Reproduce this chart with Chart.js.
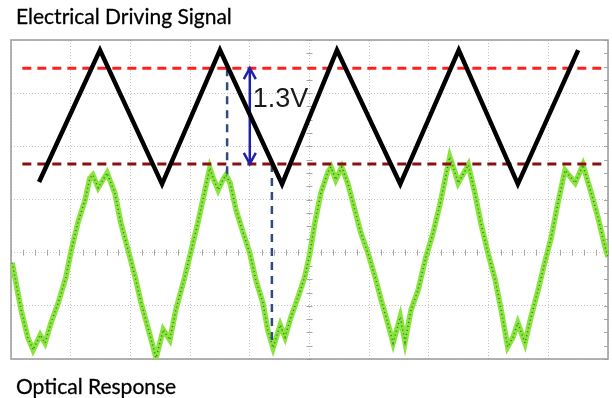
<!DOCTYPE html>
<html>
<head>
<meta charset="utf-8">
<script src="https://cdn.jsdelivr.net/npm/chart.js@4/dist/chart.umd.min.js"></script>
<style>
  body { margin: 0; background: #fff; }
  #wrap { position: relative; width: 612px; height: 398px; }
  .cap { position: absolute; left: 16px; font-family: Lato, "Open Sans", sans-serif; font-size: 21px; line-height: 24px; color: #000; white-space: nowrap; -webkit-text-stroke: 0.3px #000; }
</style>
</head>
<body>
<div id="wrap">
  <canvas id="scope"></canvas>
  <div class="cap" style="top:4px">Electrical Driving Signal</div>
  <div class="cap" style="top:374px">Optical Response</div>
</div>
<script>
// time axis in screen divisions (0..10), level axis in divisions (0..6)
var driveX = [0.47, 1.49, 2.53, 3.5, 4.54, 5.46, 6.52, 7.5, 8.49, 9.5];
var driveY = [3.33, 5.81, 3.29, 5.81, 3.29, 5.81, 3.29, 5.81, 3.29, 5.81];

var opticX = [0.02, 0.17, 0.28, 0.37, 0.49, 0.57, 0.67, 0.79, 0.92, 1.01, 1.12, 1.24, 1.32, 1.37, 1.46, 1.61, 1.74, 1.84, 1.96, 2.08,
  2.18, 2.29, 2.43, 2.55, 2.66, 2.76, 2.91, 3.02, 3.13, 3.25, 3.33, 3.38, 3.47, 3.55, 3.60, 3.67, 3.77, 3.89, 4.00, 4.10,
  4.22, 4.30, 4.39, 4.51, 4.59, 4.69, 4.81, 4.92, 5.00, 5.09, 5.19, 5.31, 5.36, 5.44, 5.54, 5.64, 5.76, 5.86, 5.98, 6.10,
  6.20, 6.31, 6.40, 6.52, 6.60, 6.70, 6.82, 6.95, 7.07, 7.19, 7.27, 7.35, 7.44, 7.49, 7.66, 7.77, 7.87, 7.99, 8.11, 8.21,
  8.32, 8.41, 8.49, 8.61, 8.71, 8.83, 8.94, 9.05, 9.16, 9.28, 9.45, 9.58, 9.72, 9.83, 9.95, 10.0];
var opticY = [1.81, 0.92, 0.41, 0.17, 0.45, 0.30, 0.68, 1.05, 1.54, 2.05, 2.56, 2.99, 3.40, 3.46, 3.22, 3.50, 3.12, 2.56, 2.05, 1.54,
  1.05, 0.60, 0.02, 0.55, 0.36, 0.92, 1.54, 2.05, 2.56, 3.18, 3.59, 3.42, 3.18, 3.37, 3.46, 3.31, 2.80, 2.37, 1.99, 1.49,
  1.05, 0.55, 0.21, 0.64, 0.41, 0.79, 1.17, 1.54, 1.95, 2.56, 3.12, 3.52, 3.61, 3.37, 3.61, 3.31, 2.80, 2.37, 1.99, 1.54,
  1.11, 0.68, 0.30, 0.79, 0.32, 0.92, 1.30, 1.92, 2.37, 2.93, 3.37, 3.80, 3.50, 3.31, 3.65, 3.12, 2.56, 1.99, 1.49, 0.92,
  0.23, 0.41, 0.68, 0.30, 0.79, 1.30, 1.81, 2.29, 2.93, 3.55, 3.31, 3.65, 3.12, 2.67, 2.11, 1.92];

var levelY = [5.47, 3.67];          // upper (red) and lower (dark red) levels
var levelSpan = [0.19, 9.92];
var cursorX = [3.62, 4.37];
var cursorTop = [5.47, 3.67];
var cursorBottom = [3.40, 0.30];
var arrowX = 4.0;
var swingLabel = '1.3V';

function pts(xs, ys) {
  return xs.map(function (x, i) { return { x: x, y: ys[i] }; });
}

var extras = {
  id: 'extras',
  beforeDatasetsDraw: function (chart) {
    var c = chart.ctx, a = chart.chartArea, xs = chart.scales.x, ys = chart.scales.y;
    c.save();
    c.strokeStyle = '#a8a8a8';
    c.lineWidth = 1;
    // minor ticks on centre lines
    var yc = ys.getPixelForValue(2), xc = xs.getPixelForValue(5);
    c.beginPath();
    for (var t = 0; t <= 10; t += 0.2) {
      var px = Math.round(xs.getPixelForValue(t)) + 0.5;
      c.moveTo(px, yc - 3); c.lineTo(px, yc + 3);
    }
    for (var s = 0; s <= 6; s += 0.25) {
      var py = Math.round(ys.getPixelForValue(s)) + 0.5;
      c.moveTo(xc - 3, py); c.lineTo(xc + 3, py);
      c.moveTo(a.right - 4, py); c.lineTo(a.right, py);
    }
    c.stroke();
    c.strokeStyle = '#9a9a9a';
    c.lineWidth = 1.5;
    c.strokeRect(a.left, a.top, a.right - a.left, a.bottom - a.top);
    c.restore();
  },
  afterDatasetsDraw: function (chart) {
    var c = chart.ctx, xs = chart.scales.x, ys = chart.scales.y;
    var ax = xs.getPixelForValue(arrowX);
    var top = ys.getPixelForValue(levelY[0]), bot = ys.getPixelForValue(levelY[1]);
    c.save();
    c.strokeStyle = '#1f1fa8';
    c.lineWidth = 2.5;
    c.beginPath();
    c.moveTo(ax - 6, top + 11); c.lineTo(ax, top); c.lineTo(ax + 6, top + 11);
    c.moveTo(ax - 6, bot - 11); c.lineTo(ax, bot); c.lineTo(ax + 6, bot - 11);
    c.stroke();
    c.fillStyle = '#1a1a1a';
    c.font = '27px "Liberation Sans", Arial, sans-serif';
    c.textBaseline = 'alphabetic';
    c.fillText(swingLabel, ax + 3, ys.getPixelForValue(4.74));
    c.restore();
  }
};

new Chart(document.getElementById('scope'), {
  type: 'line',
  data: {
    datasets: [
      { data: pts(driveX, driveY), borderColor: '#000', borderWidth: 4.5, borderJoinStyle: 'miter', order: 1 },
      { data: pts(levelSpan, [levelY[0], levelY[0]]), borderColor: '#ff1f1f', borderWidth: 3, borderDash: [9, 6], order: 2 },
      { data: pts(levelSpan, [levelY[1], levelY[1]]), borderColor: '#8a1010', borderWidth: 3, borderDash: [9, 6], order: 2 },
      { data: pts([cursorX[0], cursorX[0]], [cursorTop[0], cursorBottom[0]]), borderColor: '#2e4d7e', borderWidth: 2.5, borderDash: [8, 6], order: 3 },
      { data: pts([cursorX[1], cursorX[1]], [cursorTop[1], cursorBottom[1]]), borderColor: '#2e4d7e', borderWidth: 2.5, borderDash: [8, 6], order: 3 },
      { data: pts([arrowX, arrowX], [levelY[0], levelY[1]]), borderColor: '#1f1fa8', borderWidth: 2.5, order: 3 },
      { data: pts(opticX, opticY), borderColor: '#2f7a1c', borderWidth: 1.5, borderDash: [1, 3], order: 4 },
      { data: pts(opticX, opticY), borderColor: '#8ae43e', borderWidth: 5.5, order: 5 }
    ]
  },
  options: {
    responsive: true,
    maintainAspectRatio: false,
    animation: false,
    events: [],
    layout: { padding: { left: 11, top: 40, right: 4, bottom: 39 } },
    elements: { point: { radius: 0 }, line: { tension: 0, fill: false } },
    plugins: { legend: { display: false }, tooltip: { enabled: false } },
    scales: {
      x: {
        type: 'linear', min: 0, max: 10,
        ticks: { display: false, stepSize: 1 },
        grid: { color: '#c4c4c4', drawTicks: false },
        border: { display: false, dash: [1, 2] }
      },
      y: {
        min: 0, max: 6,
        ticks: { display: false, stepSize: 1 },
        grid: { color: '#c4c4c4', drawTicks: false },
        border: { display: false, dash: [1, 2] }
      }
    }
  },
  plugins: [extras]
});
</script>
</body>
</html>
